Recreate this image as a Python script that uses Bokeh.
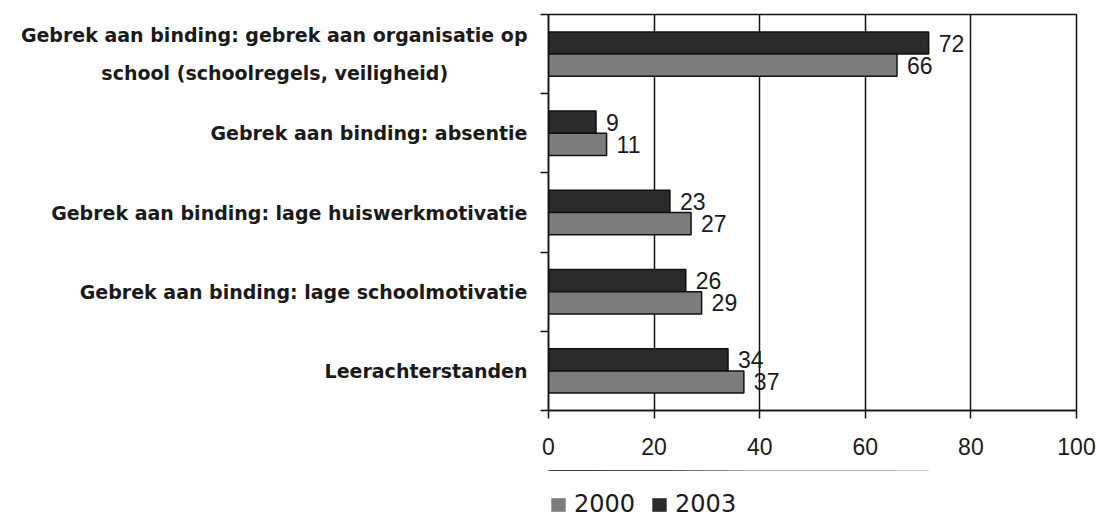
from bokeh.plotting import figure
from bokeh.layouts import column
from bokeh.models import Range1d, FixedTicker, Legend, LegendItem
from bokeh.embed import file_html
from bokeh.resources import INLINE
from bokeh.core.properties import value

NBSP = "\u00a0"
categories = [
    "Gebrek aan binding: gebrek aan organisatie op\nschool (schoolregels, veiligheid)" + NBSP * 12,
    "Gebrek aan binding: absentie",
    "Gebrek aan binding: lage huiswerkmotivatie",
    "Gebrek aan binding: lage schoolmotivatie",
    "Leerachterstanden",
]
values_2003 = [72, 9, 23, 26, 34]
values_2000 = [66, 11, 27, 29, 37]
x_ticks = [0, 20, 40, 60, 80, 100]
series_names = ["2000", "2003"]
colors = {"2000": "#7c7c7c", "2003": "#2b2b2b"}

n = len(categories)
centers = [n - i - 0.5 for i in range(n)]
bar_h = 0.28
y2003 = [c + bar_h / 2 for c in centers]
y2000 = [c - bar_h / 2 for c in centers]
series_data = {"2000": (y2000, values_2000), "2003": (y2003, values_2003)}

NUM_FONT = "Liberation Sans"
LAB_FONT = "DejaVu Sans"
INK = "#1a1a1a"
LINE = "#111111"

p = figure(width=1100, height=470, x_range=Range1d(0, 100), y_range=Range1d(0, n),
           output_backend="svg", toolbar_location=None,
           min_border_left=548, min_border_right=24, min_border_top=14, min_border_bottom=60,
           background_fill_color="white", border_fill_color="white")

p.outline_line_color = LINE
p.outline_line_width = 1.5

# y axis: labels at category centres, ticks at category boundaries
ya = p.yaxis[0]
ya.ticker = FixedTicker(ticks=centers, minor_ticks=list(range(n + 1)))
ya.major_label_overrides = {c: lab for c, lab in zip(centers, categories)}
ya.major_tick_line_color = None
ya.major_tick_out = 0
ya.major_tick_in = 0
ya.minor_tick_out = 8
ya.minor_tick_in = 0
ya.minor_tick_line_color = LINE
ya.minor_tick_line_width = 1.5
ya.axis_line_color = LINE
ya.axis_line_width = 1.5
ya.major_label_standoff = 13
ya.major_label_text_font = LAB_FONT
ya.major_label_text_font_style = "bold"
ya.major_label_text_font_size = "19px"
ya.major_label_text_color = INK
ya.major_label_text_line_height = 1.72

xa = p.xaxis[0]
xa.ticker = FixedTicker(ticks=x_ticks)
xa.major_tick_out = 8
xa.major_tick_in = 0
xa.major_tick_line_color = LINE
xa.major_tick_line_width = 1.5
xa.minor_tick_line_color = None
xa.axis_line_color = LINE
xa.axis_line_width = 1.5
xa.major_label_standoff = 19
xa.major_label_text_font = NUM_FONT
xa.major_label_text_font_size = "23px"
xa.major_label_text_color = INK

p.xgrid.ticker = FixedTicker(ticks=x_ticks)
p.xgrid.grid_line_color = LINE
p.xgrid.grid_line_width = 1.5
p.ygrid.grid_line_color = None

for s in ("2003", "2000"):
    ys, vals = series_data[s]
    p.hbar(y=ys, left=0, right=vals, height=bar_h,
           fill_color=colors[s], line_color=LINE, line_width=1.5)
    p.text(x=vals, y=ys, text=[str(v) for v in vals], x_offset=10,
           text_baseline="middle", text_align="left", text_font=value(NUM_FONT),
           text_font_size="23px", text_color=INK)

# legend strip below the chart; its frame starts where the legend starts.
# The swatch renderers reuse the series data but lie outside this strip's view.
lg = figure(width=1100, height=49, x_range=Range1d(0, 100), y_range=Range1d(-3, -2),
            x_axis_type=None, y_axis_type=None, output_backend="svg", toolbar_location=None,
            min_border_left=528, min_border_right=0, min_border_top=0, min_border_bottom=0,
            background_fill_color="white", border_fill_color="white")
lg.outline_line_color = None
lg.xgrid.visible = False
lg.ygrid.visible = False
sw = {}
for s in series_names:
    ys, vals = series_data[s]
    sw[s] = lg.hbar(y=ys, left=0, right=vals, height=bar_h, fill_color=colors[s],
                    line_color=None)

legend = Legend(items=[LegendItem(label=s, renderers=[sw[s]]) for s in series_names],
                orientation="horizontal", location="bottom_left",
                border_line_color=None, background_fill_alpha=0,
                padding=0, margin=1, spacing=15, label_standoff=7,
                glyph_width=18, glyph_height=17,
                label_text_font=LAB_FONT, label_text_font_size="24px",
                label_text_color=INK)
lg.add_layout(legend)

open("out.html", "w").write(file_html(column(p, lg, spacing=0), INLINE))
